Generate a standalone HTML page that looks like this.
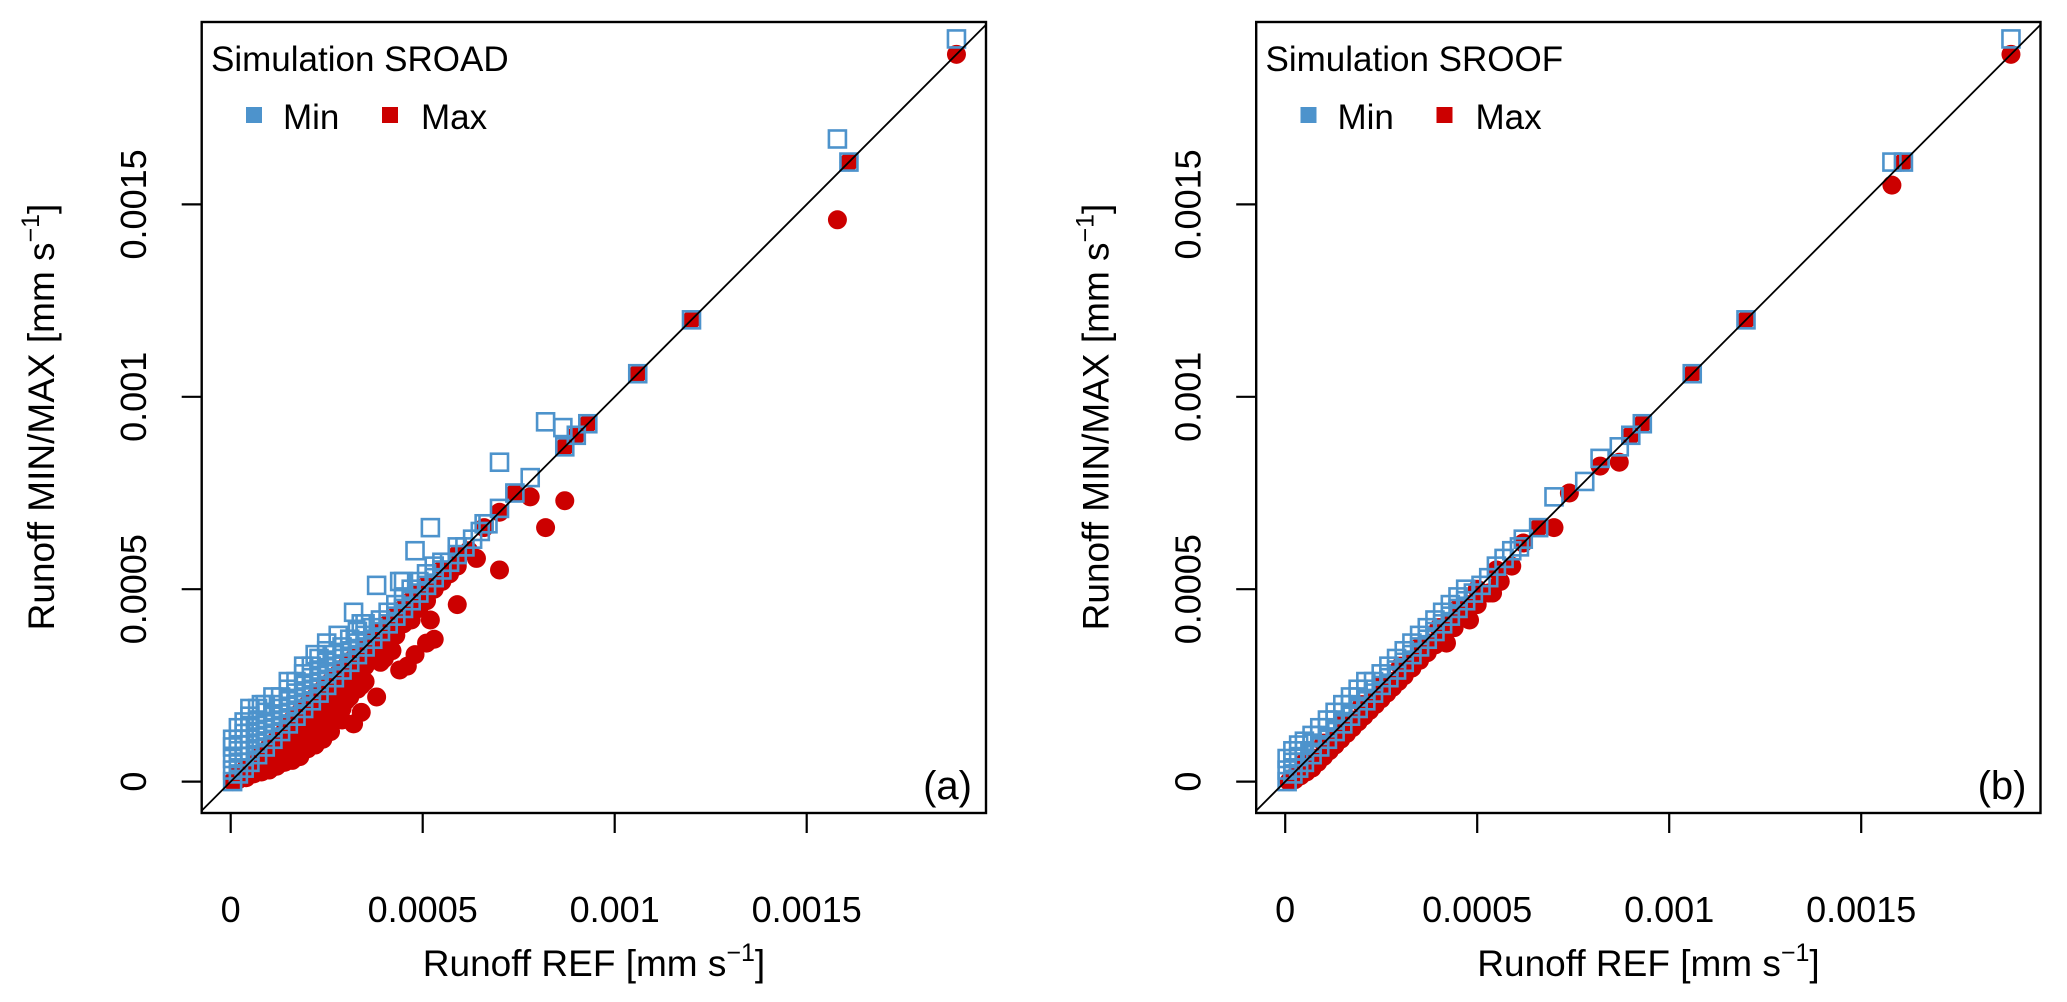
<!DOCTYPE html>
<html><head><meta charset="utf-8"><style>
html,body{margin:0;padding:0;background:#fff;}
svg{display:block;font-family:"Liberation Sans",sans-serif;}
</style></head><body>
<svg id="fig" width="2067" height="1002" viewBox="0 0 2067 1002" xmlns="http://www.w3.org/2000/svg"></svg>
<script>
// ---- data (units of 1e-4 mm s^-1) ----
const xTicks = [0, 0.0005, 0.001, 0.0015];
const xTickLabels = ["0", "0.0005", "0.001", "0.0015"];
const yTicks = [0, 0.0005, 0.001, 0.0015];
const yTickLabels = ["0", "0.0005", "0.001", "0.0015"];
const panelTitles = ["Simulation SROAD", "Simulation SROOF"];
const panelTags = ["(a)", "(b)"];

const minA = [
[18.9,19.3],[15.8,16.7],[16.1,16.1],[12,12],[10.6,10.6],[9.3,9.3],[9.0,9.0],[8.7,8.7],[8.2,9.35],[8.65,9.2],[7.0,8.3],[7.8,7.9],[7.4,7.5],[7.0,7.1],[6.6,6.7],[5.2,6.6],[4.8,6.0],[3.8,5.1],[4.4,5.2],[4.5,5.2],[3.2,4.4],[3.4,4.1],[2.8,3.8],[2.5,3.6],[2.2,3.3],[1.9,3.0],[1.5,2.6],[1.1,2.2],[0.8,2.0],
[0.05,0],[0.05,0.3],[0.05,0.6],[0.05,0.9],[0.05,1.1],[0.2,0.2],[0.2,0.5],[0.2,0.8],[0.2,1.1],[0.2,1.4],[0.35,0.35],[0.35,0.65],[0.35,0.95],[0.35,1.25],[0.35,1.55],
[0.5,0.5],[0.5,0.8],[0.5,1.1],[0.5,1.4],[0.5,1.7],[0.5,1.9],[0.7,0.7],[0.7,1.0],[0.7,1.3],[0.7,1.6],[0.7,1.9],
[0.9,0.9],[0.9,1.2],[0.9,1.5],[0.9,1.8],[0.9,2.0],[1.1,1.1],[1.1,1.4],[1.1,1.7],[1.1,2.0],[1.3,1.3],[1.3,1.6],[1.3,1.9],[1.3,2.2],
[1.5,1.5],[1.5,1.8],[1.5,2.1],[1.5,2.4],[1.7,1.7],[1.7,2.0],[1.7,2.3],[1.7,2.6],[1.9,1.9],[1.9,2.2],[1.9,2.5],[1.9,2.8],
[2.1,2.1],[2.1,2.4],[2.1,2.7],[2.1,3.0],[2.3,2.3],[2.3,2.6],[2.3,2.9],[2.3,3.2],[2.5,2.5],[2.5,2.8],[2.5,3.1],[2.5,3.4],
[2.7,2.7],[2.7,3.0],[2.7,3.3],[2.9,2.9],[2.9,3.2],[2.9,3.5],[3.1,3.1],[3.1,3.4],[3.1,3.7],[3.3,3.3],[3.3,3.6],[3.3,3.9],
[3.5,3.5],[3.5,3.8],[3.5,4.1],[3.7,3.7],[3.7,4.0],[3.9,3.9],[3.9,4.2],[4.1,4.1],[4.1,4.4],[4.3,4.3],[4.3,4.6],[4.5,4.5],[4.5,4.8],
[4.7,4.7],[4.7,5.0],[4.9,4.9],[4.9,5.2],[5.1,5.1],[5.1,5.4],[5.3,5.3],[5.3,5.6],[5.5,5.5],[5.5,5.7],[5.7,5.7],[5.9,5.9],[5.9,6.1],[6.1,6.1],[6.3,6.3],[6.5,6.5],[6.7,6.7]
];
const maxA = [
[18.9,18.9],[15.8,14.6],[16.1,16.1],[12,12],[10.6,10.6],[9.3,9.3],[9.0,9.0],[8.7,8.7],[8.7,7.3],[8.2,6.6],[7.8,7.4],[7.4,7.5],[7.0,5.5],[7.0,7.0],[6.6,6.6],[6.4,5.8],[5.9,4.6],[5.2,4.2],[5.1,3.6],[5.3,3.7],[4.8,3.3],[4.4,2.9],[4.6,3.0],[4.2,3.4],[3.8,2.2],[3.4,1.8],[3.2,1.5],[3.8,3.5],[4.0,3.2],[2.9,1.6],[2.7,2.3],[3.4,2.5],[3.3,2.7],
[0.05,0],[0.2,0.05],[0.2,0.2],[0.4,0.1],[0.4,0.35],[0.6,0.2],[0.6,0.45],[0.8,0.25],[0.8,0.55],[0.8,0.75],[1.0,0.3],[1.0,0.6],[1.0,0.9],
[1.2,0.4],[1.2,0.75],[1.2,1.1],[1.4,0.5],[1.4,0.9],[1.4,1.3],[1.6,0.55],[1.6,0.95],[1.6,1.3],[1.6,1.6],[1.8,0.65],[1.8,1.05],[1.8,1.45],[1.8,1.8],
[2.0,0.85],[2.0,1.25],[2.0,1.65],[2.0,2.0],[2.2,0.95],[2.2,1.35],[2.2,1.8],[2.2,2.2],[2.4,1.1],[2.4,1.5],[2.4,1.95],[2.4,2.4],
[2.6,1.3],[2.6,1.75],[2.6,2.2],[2.6,2.6],[2.8,1.9],[2.8,2.4],[2.8,2.8],[3.0,2.1],[3.0,2.6],[3.0,3.0],[3.2,2.4],[3.2,2.8],[3.2,3.2],
[3.5,2.6],[3.5,3.0],[3.5,3.5],[3.7,3.2],[3.7,3.7],[3.9,3.1],[3.9,3.5],[3.9,3.9],[4.1,3.7],[4.1,4.1],[4.3,3.8],[4.3,4.3],
[4.5,4.1],[4.5,4.5],[4.7,4.2],[4.7,4.7],[4.9,4.5],[4.9,4.9],[5.1,4.7],[5.1,5.1],[5.3,5.0],[5.5,5.2],[5.5,5.5],[5.7,5.4],[5.9,5.6],[5.9,5.9],[6.2,6.0],
[0.3,0.15],[0.5,0.3],[0.7,0.35],[0.9,0.45],[1.1,0.5],[1.3,0.6],[1.5,0.75],[1.7,0.8],[1.9,0.9],[2.1,1.1],[2.3,1.2],[2.5,1.5],[2.7,1.6],[2.9,1.9],[3.1,2.2],[3.3,2.4],[1.3,0.9],[1.5,1.1],[1.9,1.3],[2.1,1.5],[2.5,1.9],[2.7,2.0]
];
const minB = [
[18.9,19.3],[15.8,16.1],[16.1,16.1],[12,12],[10.6,10.6],[9.3,9.3],[9.0,9.0],[8.7,8.7],[8.2,8.4],[7.8,7.8],[7.0,7.4],[6.6,6.6],[6.2,6.3],
[0.05,0],[0.05,0.3],[0.05,0.6],[0.2,0.2],[0.2,0.5],[0.2,0.8],[0.35,0.35],[0.35,0.65],[0.35,0.95],[0.5,0.5],[0.5,0.8],[0.5,1.05],
[0.7,0.7],[0.7,1.0],[0.7,1.2],[0.9,0.9],[0.9,1.2],[0.9,1.4],[1.1,1.1],[1.1,1.4],[1.1,1.6],[1.3,1.3],[1.3,1.6],[1.3,1.8],
[1.5,1.5],[1.5,1.8],[1.5,2.0],[1.7,1.7],[1.7,2.0],[1.7,2.2],[1.9,1.9],[1.9,2.2],[1.9,2.4],[2.1,2.1],[2.1,2.4],[2.1,2.6],
[2.3,2.3],[2.3,2.6],[2.5,2.5],[2.5,2.8],[2.7,2.7],[2.7,3.0],[2.9,2.9],[2.9,3.2],[3.1,3.1],[3.1,3.4],[3.3,3.3],[3.3,3.6],
[3.5,3.5],[3.5,3.8],[3.7,3.7],[3.7,4.0],[3.9,3.9],[3.9,4.2],[4.1,4.1],[4.1,4.4],[4.3,4.3],[4.3,4.6],[4.5,4.5],[4.5,4.8],
[4.7,4.7],[4.7,5.0],[4.9,4.9],[5.1,5.1],[5.3,5.3],[5.5,5.6],[5.7,5.8],[5.9,6.0],[6.1,6.1]
];
const maxB = [
[18.9,18.9],[15.8,15.5],[16.1,16.1],[12,12],[10.6,10.6],[9.3,9.3],[9.0,9.0],[8.7,8.3],[8.2,8.2],[7.4,7.5],[7.0,6.6],[6.6,6.6],[6.2,6.2],[5.4,4.9],[4.8,4.2],[4.2,3.6],
[0.1,0],[0.25,0.05],[0.4,0.15],[0.55,0.25],[0.7,0.35],[0.85,0.5],[1.0,0.65],[1.15,0.8],[1.3,0.95],[1.45,1.1],[1.6,1.25],[1.75,1.4],
[1.9,1.55],[2.05,1.7],[2.2,1.85],[2.35,2.0],[2.5,2.15],[2.65,2.3],[2.8,2.45],[2.95,2.6],[3.1,2.75],[3.3,2.95],[3.5,3.15],[3.7,3.35],
[3.9,3.55],[4.1,3.75],[4.4,4.0],[4.7,4.3],[5.0,4.6],[5.3,4.9],[5.6,5.2],[5.9,5.6],
[0.5,0.5],[1.0,1.0],[1.5,1.5],[2.0,2.0],[2.5,2.5],[3.0,3.0],[3.5,3.5],[4.0,4.0],[4.5,4.5],[5.0,5.0],[5.5,5.5],
[0.3,0.2],[0.8,0.6],[1.3,1.1],[1.8,1.6],[2.3,2.1],[2.8,2.6],[3.3,3.1],[3.8,3.6],[4.3,4.1],[4.8,4.6]
];
const panelMin = [minA, minB];
const panelMax = [maxA, maxB];

// ---- layout ----
const NS = "http://www.w3.org/2000/svg";
const svg = document.getElementById("fig");
function mk(tag, attrs, parent) {
  const e = document.createElementNS(NS, tag);
  for (const k in attrs) e.setAttribute(k, attrs[k]);
  (parent || svg).appendChild(e);
  return e;
}
const BOX = {l: 201.7, r: 986, t: 22, b: 813};
const X0 = 230.7, XPER = 192 / 0.0005;
const Y0 = 781.6, YPER = 192.4 / 0.0005;
const BLUE = "#4d93cc", RED = "#cc0000";

for (let p = 0; p < 2; p++) {
  const off = p * 1054.5;
  const xs = v => off + X0 + v * XPER;
  const ys = v => Y0 - v * YPER;
  const g = mk("g", {});
  
  
  const cid = "clip" + p;
  const cp = mk("clipPath", {id: cid}, g);
  mk("rect", {x: off + BOX.l, y: BOX.t, width: BOX.r - BOX.l, height: BOX.b - BOX.t}, cp);
  const plot = mk("g", {"clip-path": "url(#" + cid + ")"}, g);

  panelMax[p].forEach(d => {
    const c = mk("circle", {cx: xs(d[0] * 1e-4), cy: ys(d[1] * 1e-4), r: 9.5, fill: RED}, plot);
    
    
  });
  panelMin[p].forEach(d => {
    const s = mk("rect", {x: xs(d[0] * 1e-4) - 8.5, y: ys(d[1] * 1e-4) - 8.5, width: 17, height: 17, fill: "none", stroke: BLUE, "stroke-width": 2.6}, plot);
    
    
  });
  const ln = mk("line", {x1: xs(-0.0002), y1: ys(-0.0002), x2: xs(0.0022), y2: ys(0.0022), stroke: "#000", "stroke-width": 1.8}, plot);
  
  

  const bx = mk("rect", {x: off + BOX.l, y: BOX.t, width: BOX.r - BOX.l, height: BOX.b - BOX.t, fill: "none", stroke: "#000", "stroke-width": 2.4}, g);
  
  

  xTicks.forEach((v, i) => {
    mk("line", {x1: xs(v), y1: BOX.b, x2: xs(v), y2: BOX.b + 20, stroke: "#000", "stroke-width": 2.2}, g);
    const t = mk("text", {x: xs(v), y: 922, "text-anchor": "middle", "font-size": 36}, g);
    t.textContent = xTickLabels[i];
    
    
  });
  yTicks.forEach((v, i) => {
    mk("line", {x1: off + BOX.l, y1: ys(v), x2: off + BOX.l - 20, y2: ys(v), stroke: "#000", "stroke-width": 2.2}, g);
    const tx = off + 146;
    const t = mk("text", {x: tx, y: ys(v), "text-anchor": "middle", "font-size": 36, transform: "rotate(-90 " + tx + " " + ys(v) + ")"}, g);
    t.textContent = yTickLabels[i];
    
    
  });
  const xt = mk("text", {x: off + 594, y: 976, "text-anchor": "middle", "font-size": 37}, g);
  xt.innerHTML = 'Runoff REF [mm s<tspan dy="-15" font-size="25">−1</tspan><tspan dy="15">]</tspan>';
  
  
  const yx = off + 54, yy = 417;
  const yt = mk("text", {x: yx, y: yy, "text-anchor": "middle", "font-size": 37, transform: "rotate(-90 " + yx + " " + yy + ")"}, g);
  yt.innerHTML = 'Runoff MIN/MAX [mm s<tspan dy="-15" font-size="25">−1</tspan><tspan dy="15">]</tspan>';
  
  

  const ttl = mk("text", {x: off + 211, y: 71, "font-size": 35}, g);
  ttl.textContent = panelTitles[p];
  
  
  const l1 = mk("rect", {x: off + 246, y: 107, width: 16, height: 16, fill: BLUE}, g);
  
  
  const l1t = mk("text", {x: off + 283, y: 129, "font-size": 35}, g);
  l1t.textContent = "Min";
  
  
  const l2 = mk("rect", {x: off + 382, y: 107, width: 16, height: 16, fill: RED}, g);
  
  
  const l2t = mk("text", {x: off + 421, y: 129, "font-size": 35}, g);
  l2t.textContent = "Max";
  
  

  const tag = mk("text", {x: off + 972, y: 799, "text-anchor": "end", "font-size": 40}, g);
  tag.textContent = panelTags[p];
  
  
}
</script>
</body></html>
